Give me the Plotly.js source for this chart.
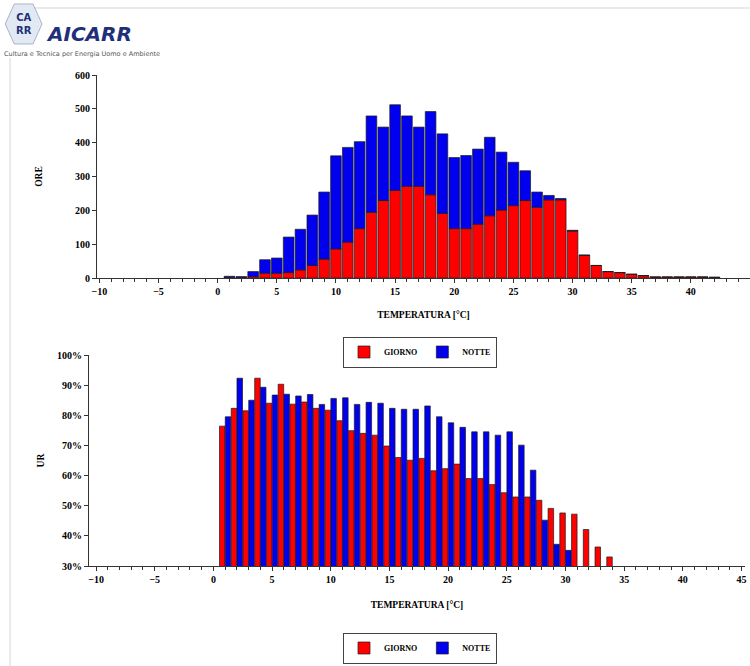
<!DOCTYPE html>
<html><head><meta charset="utf-8">
<script src="https://cdn.plot.ly/plotly-3.0.1.min.js"></script>
<style>html,body{margin:0;padding:0;background:#fff}#chart{width:750px;height:666px}</style>
</head><body><div id="chart"></div>
<script>
// ---- DATA ----
const temperature = [1,2,3,4,5,6,7,8,9,10,11,12,13,14,15,16,17,18,19,20,21,22,23,24,25,26,27,28,29,30,31,32,33,34,35,36,37,38,39,40,41,42];
const oreGiorno = [2,2,4,14,14,16,24,37,56,86,106,146,194,229,259,271,271,246,191,146,146,159,184,201,214,229,209,231,231,139,67,37,19,16,11,7,3,3,3,3,3,2];
const oreNotte  = [3,2,15,40,45,105,120,149,198,275,280,257,285,217,253,208,175,246,235,210,216,222,232,171,128,88,45,13,4,2,1,0,0,0,0,0,0,0,0,0,0,0];

const tempUrGiorno = [1,2,3,4,5,6,7,8,9,10,11,12,13,14,15,16,17,18,19,20,21,22,23,24,25,26,27,28,29,30,31,32,33,34];
const urGiorno = [76.4,82.3,81.5,92.3,84.0,90.3,83.7,84.4,82.3,81.7,78.2,74.9,74.0,73.4,69.8,66.0,65.1,65.7,61.6,62.3,63.8,59.0,59.0,57.0,54.3,52.9,52.9,51.8,49.1,47.6,47.2,42.1,36.3,33.0];
const tempUrNotte = [1,2,3,4,5,6,7,8,9,10,11,12,13,14,15,16,17,18,19,20,21,22,23,24,25,26,27,28,29,30];
const urNotte = [79.5,92.3,85.0,89.3,86.7,87.0,86.4,86.9,83.6,85.6,85.8,83.6,84.3,84.0,82.3,82.0,82.0,83.1,79.5,77.5,76.0,74.5,74.5,73.4,74.5,70.1,61.8,45.2,37.2,35.2];

const xTickVals = [-10,-5,0,5,10,15,20,25,30,35,40,45];
const oreTickVals = [0,100,200,300,400,500,600];
const urTickVals = [30,40,50,60,70,80,90,100];
const urTickText = urTickVals.map(v => v + '%');
const seriesNames = ['GIORNO','NOTTE'];
const xTitle = 'TEMPERATURA [°C]';

// ---- STYLE ----
const RED = '#FF0000', BLUE = '#0000EE';
const SERIF = 'Liberation Serif, Times New Roman, serif';
const tickFont = {family: SERIF, size: 10, color: '#000', weight: 'bold'};
const titleFont = {family: SERIF, size: 9.5, color: '#000', weight: 'bold'};
const outline = {color: '#1a1a1a', width: 0.7};

const traces = [
  {type:'bar', x: temperature, y: oreGiorno, name: seriesNames[0], xaxis:'x', yaxis:'y',
   width: 0.9, marker:{color: RED, line: outline}, legend:'legend'},
  {type:'bar', x: temperature, y: oreNotte, base: oreGiorno, name: seriesNames[1], xaxis:'x', yaxis:'y',
   width: 0.9, marker:{color: BLUE, line: outline}, legend:'legend'},
  {type:'bar', x: tempUrGiorno, y: urGiorno, name: seriesNames[0], xaxis:'x2', yaxis:'y2',
   width: 0.47, offset: -0.48, marker:{color: RED, line: outline}, legend:'legend2'},
  {type:'bar', x: tempUrNotte, y: urNotte, name: seriesNames[1], xaxis:'x2', yaxis:'y2',
   width: 0.47, offset: 0.01, marker:{color: BLUE, line: outline}, legend:'legend2'}
];

function xAxis(domain, range, anchor, standoff) {
  return {domain, range, anchor, tickvals: xTickVals, ticks:'outside', ticklen:4, tickcolor:'#333',
    minor:{dtick:1, ticks:'outside', ticklen:3, tickcolor:'#333'},
    showline:true, linecolor:'#333', linewidth:1, showgrid:false, zeroline:false,
    tickfont: tickFont, title:{text: xTitle, font: titleFont, standoff: standoff}, fixedrange:true};
}

const legendCommon = {orientation:'h', xanchor:'center', yanchor:'middle',
    bordercolor:'#444', borderwidth:1, font:{family: SERIF, size:8, weight:'bold', color:'#000'},
    itemwidth:30, tracegroupgap:0, bgcolor:'#fff'};

const layout = {
  width: 750, height: 666,
  margin: {l:0, r:0, t:0, b:0},
  paper_bgcolor:'#fff', plot_bgcolor:'#fff',
  barmode:'overlay',
  showlegend:true,
  xaxis: xAxis([97/750, 1], [-10.2, 45], 'y', 15),
  yaxis: {domain:[1-278/666, 1-75/666], range:[0,600], anchor:'x', tickvals: oreTickVals,
    ticks:'outside', ticklen:4, tickcolor:'#333', showline:true, linecolor:'#333', showgrid:false, zeroline:false,
    tickfont: tickFont, title:{text:'ORE', font: titleFont, standoff: 30}},
  xaxis2: xAxis([89/750, 745/750], [-10.6, 45.3], 'y2', 17),
  yaxis2: {domain:[1-566/666, 1-355/666], range:[30,100], anchor:'x2', tickvals: urTickVals, ticktext: urTickText,
    ticks:'outside', ticklen:4, tickcolor:'#333', showline:true, linecolor:'#333', showgrid:false, zeroline:false,
    tickfont: tickFont, title:{text:'UR', font: titleFont, standoff: 10}},
  legend: Object.assign({x:420/750, y:1-352/666}, legendCommon),
  legend2: Object.assign({x:420/750, y:1-648/666}, legendCommon),
  shapes: [
    {type:'line', xref:'paper', yref:'paper', x0:17/750, x1:1, y0:1-8/666, y1:1-8/666, line:{color:'#d5d5d5', width:1}},
    {type:'line', xref:'paper', yref:'paper', x0:10/750, x1:10/750, y0:0, y1:1-58/666, line:{color:'#d5d5d5', width:1}},
    {type:'path', xref:'paper', yref:'paper',
     path:'M 0.0070 0.9640 L 0.0190 0.9940 L 0.0440 0.9940 L 0.0560 0.9640 L 0.0440 0.9340 L 0.0190 0.9340 Z',
     fillcolor:'#e3e9f2', line:{color:'#a8b4c8', width:1}}
  ],
  annotations: [
    {xref:'paper', yref:'paper', x:0.0315, y:0.9640, xanchor:'center', yanchor:'middle', text:'<b>CA<br>RR</b>', showarrow:false,
     font:{family:'DejaVu Sans, sans-serif', size:10, color:'#1f2f7a'}, align:'center'},
    {xref:'paper', yref:'paper', x:0.058, y:1-34/666, xanchor:'left', yanchor:'middle', text:'<b><i>AICARR</i></b>', showarrow:false,
     font:{family:'DejaVu Sans, sans-serif', size:20, color:'#1f2f7a'}},
    {xref:'paper', yref:'paper', x:0.003, y:1-54/666, xanchor:'left', yanchor:'middle', text:'Cultura e Tecnica per Energia Uomo e Ambiente', showarrow:false,
     font:{family:'DejaVu Sans, sans-serif', size:6.5, color:'#555'}}
  ]
};

Plotly.newPlot('chart', traces, layout, {staticPlot:true, displayModeBar:false});
</script></body></html>
